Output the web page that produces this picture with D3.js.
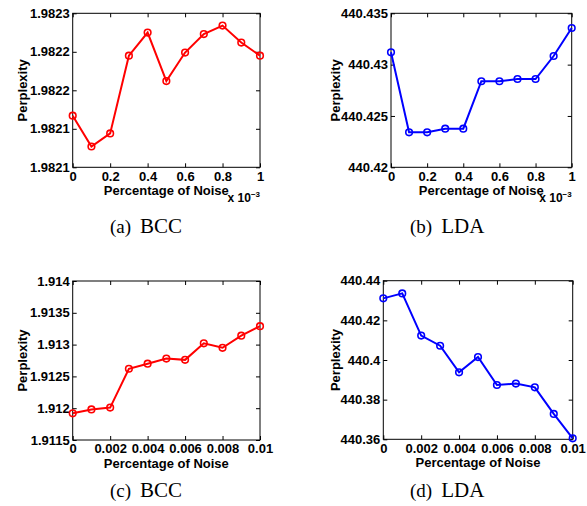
<!DOCTYPE html>
<html>
<head>
<meta charset="utf-8">
<script src="https://cdn.jsdelivr.net/npm/d3@7"></script>
<style>
body { margin: 0; background: #fff; }
svg text { font-family: "Liberation Sans", Arial, sans-serif; font-weight: bold; fill: #000; }
svg text.caption { font-family: "Liberation Serif", "Times New Roman", serif; font-weight: normal; }
</style>
</head>
<body>
<svg id="chart"></svg>
<script>
// x values: top row is in units of 10^-3, bottom row is raw
const noiseSmall = [0, 0.1, 0.2, 0.3, 0.4, 0.5, 0.6, 0.7, 0.8, 0.9, 1];
const noiseLarge = [0, 0.001, 0.002, 0.003, 0.004, 0.005, 0.006, 0.007, 0.008, 0.009, 0.01];

const bccSmall = [1.982117, 1.982077, 1.982094, 1.982195, 1.982225, 1.982162, 1.982199, 1.982223, 1.982234, 1.982212, 1.982195];
const ldaSmall = [440.4312, 440.42341, 440.42341, 440.42376, 440.42376, 440.42838, 440.42838, 440.4286, 440.4286, 440.43084, 440.43357];
const bccLarge = [1.91192, 1.91198, 1.91201, 1.91262, 1.9127, 1.91278, 1.91276, 1.91302, 1.91295, 1.91314, 1.91329];
const ldaLarge = [440.4311, 440.4336, 440.4123, 440.4072, 440.3938, 440.4015, 440.3874, 440.3881, 440.3862, 440.3728, 440.3605];

const smallTicks = [0, 0.2, 0.4, 0.6, 0.8, 1];
const smallTickLabels = ['0', '0.2', '0.4', '0.6', '0.8', '1'];
const largeTicks = [0, 0.002, 0.004, 0.006, 0.008, 0.01];
const largeTickLabels = ['0', '0.002', '0.004', '0.006', '0.008', '0.01'];

const bccSmallYTicks = [1.98205, 1.9821, 1.98215, 1.9822, 1.98225];
const bccSmallYLabels = ['1.9821', '1.9821', '1.9822', '1.9822', '1.9823'];
const ldaSmallYTicks = [440.42, 440.425, 440.43, 440.435];
const ldaSmallYLabels = ['440.42', '440.425', '440.43', '440.435'];
const bccLargeYTicks = [1.9115, 1.912, 1.9125, 1.913, 1.9135, 1.914];
const bccLargeYLabels = ['1.9115', '1.912', '1.9125', '1.913', '1.9135', '1.914'];
const ldaLargeYTicks = [440.36, 440.38, 440.40, 440.42, 440.44];
const ldaLargeYLabels = ['440.36', '440.38', '440.4', '440.42', '440.44'];

const svg = d3.select('#chart')
    .attr('width', 587)
    .attr('height', 506);

const panels = [
    { x: noiseSmall, y: bccSmall, xTicks: smallTicks, xLabels: smallTickLabels, yTicks: bccSmallYTicks, yLabels: bccSmallYLabels,
      color: '#ff0000', box: [72.7, 13.3, 260, 167.3], ylabelX: 27, exponent: true, tag: '(a)', name: 'BCC', capX: 110, capY: 233 },
    { x: noiseSmall, y: ldaSmall, xTicks: smallTicks, xLabels: smallTickLabels, yTicks: ldaSmallYTicks, yLabels: ldaSmallYLabels,
      color: '#0000ff', box: [391, 13.3, 571.7, 167.3], ylabelX: 340, exponent: true, tag: '(b)', name: 'LDA', capX: 410, capY: 233 },
    { x: noiseLarge, y: bccLarge, xTicks: largeTicks, xLabels: largeTickLabels, yTicks: bccLargeYTicks, yLabels: bccLargeYLabels,
      color: '#ff0000', box: [72.7, 281, 260, 440], ylabelX: 27, exponent: false, tag: '(c)', name: 'BCC', capX: 110, capY: 497 },
    { x: noiseLarge, y: ldaLarge, xTicks: largeTicks, xLabels: largeTickLabels, yTicks: ldaLargeYTicks, yLabels: ldaLargeYLabels,
      color: '#0000ff', box: [383.3, 280.7, 572.7, 439.3], ylabelX: 340, exponent: false, tag: '(d)', name: 'LDA', capX: 410, capY: 497 }
];

panels.forEach(p => {
    const [x0, y0, x1, y1] = p.box;
    const xScale = d3.scaleLinear()
        .domain(d3.extent(p.xTicks))
        .range([x0, x1]);
    const yScale = d3.scaleLinear()
        .domain(d3.extent(p.yTicks))
        .range([y1, y0]);

    const g = svg.append('g');

    // axes, MATLAB-style ticks pointing inward
    g.append('g')
        .attr('transform', `translate(0,${y1})`)
        .call(d3.axisBottom(xScale).tickValues(p.xTicks)
            .tickFormat((d, i) => p.xLabels[i])
            .tickSizeInner(-4).tickSizeOuter(0).tickPadding(4));
    g.append('g')
        .attr('transform', `translate(0,${y0})`)
        .call(d3.axisTop(xScale).tickValues(p.xTicks).tickFormat('')
            .tickSizeInner(-4).tickSizeOuter(0));
    g.append('g')
        .attr('transform', `translate(${x0},0)`)
        .call(d3.axisLeft(yScale).tickValues(p.yTicks)
            .tickFormat((d, i) => p.yLabels[i])
            .tickSizeInner(-4).tickSizeOuter(0).tickPadding(3));
    g.append('g')
        .attr('transform', `translate(${x1},0)`)
        .call(d3.axisRight(yScale).tickValues(p.yTicks).tickFormat('')
            .tickSizeInner(-4).tickSizeOuter(0));

    g.selectAll('.domain').remove();
    g.selectAll('.tick line').attr('stroke', '#000');
    g.selectAll('.tick text').style('font-size', '13px');

    g.append('rect')
        .attr('x', x0).attr('y', y0)
        .attr('width', x1 - x0).attr('height', y1 - y0)
        .attr('fill', 'none')
        .attr('stroke', '#000')
        .attr('stroke-width', 1);

    const pts = p.x.map((v, i) => [v, p.y[i]]);

    g.append('path')
        .datum(pts)
        .attr('fill', 'none')
        .attr('stroke', p.color)
        .attr('stroke-width', 2)
        .attr('d', d3.line().x(d => xScale(d[0])).y(d => yScale(d[1])));

    g.selectAll('circle')
        .data(pts)
        .enter().append('circle')
        .attr('cx', d => xScale(d[0]))
        .attr('cy', d => yScale(d[1]))
        .attr('r', 3.3)
        .attr('fill', 'none')
        .attr('stroke', p.color)
        .attr('stroke-width', 1.6);

    // axis labels
    g.append('text')
        .attr('x', (x0 + x1) / 2)
        .attr('y', y1 + 28)
        .attr('text-anchor', 'middle')
        .style('font-size', '13px')
        .text('Percentage of Noise');

    g.append('text')
        .attr('transform', `translate(${p.ylabelX},${(y0 + y1) / 2}) rotate(-90)`)
        .attr('text-anchor', 'middle')
        .style('font-size', '13px')
        .text('Perplexity');

    if (p.exponent) {
        const ex = g.append('text')
            .attr('x', x1)
            .attr('y', y1 + 35)
            .attr('text-anchor', 'end')
            .style('font-size', '12px');
        ex.append('tspan').text('x 10');
        ex.append('tspan').attr('dy', -5).style('font-size', '8px').text('\u22123');
    }

    // sub-figure caption
    const cap = g.append('text')
        .attr('class', 'caption')
        .attr('x', p.capX)
        .attr('y', p.capY);
    cap.append('tspan').style('font-size', '19px').text(p.tag);
    cap.append('tspan').attr('dx', 9).style('font-size', '21px').text(p.name);
});
</script>
</body>
</html>
